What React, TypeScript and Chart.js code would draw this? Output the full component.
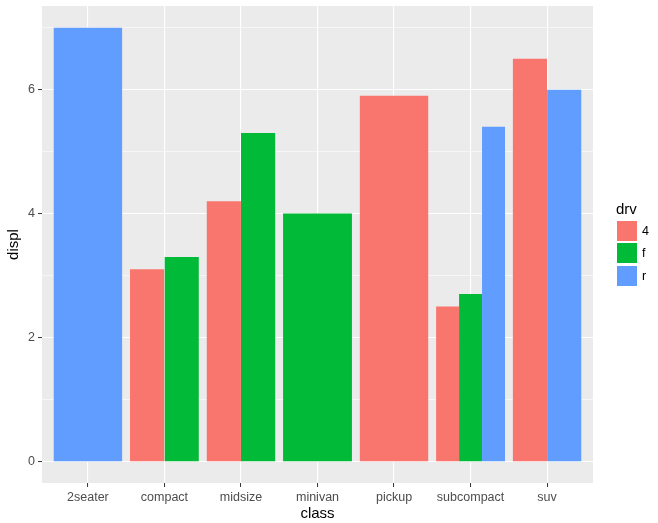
import React, { useEffect, useRef } from "react";
import { Chart, registerables } from "chart.js";

Chart.register(...registerables);

const classes = ["2seater", "compact", "midsize", "minivan", "pickup", "subcompact", "suv"];
const drvLevels = ["4", "f", "r"];
const drvColors = ["#F8766D", "#00BA38", "#619CFF"];
const displ4: (number | null)[] = [null, 3.1, 4.2, null, 5.9, 2.5, 6.5];
const displF: (number | null)[] = [null, 3.3, 5.3, 4.0, null, 2.7, null];
const displR: (number | null)[] = [7.0, null, null, null, null, 5.4, 6.0];
const yTicks = [0, 1, 2, 3, 4, 5, 6, 7];

const FONT = "'Liberation Sans', Arial, sans-serif";

function buildDatasets() {
  const series = [displ4, displF, displR];
  const datasets: any[] = [];
  classes.forEach((_, ci) => {
    const present = series.map((s, si) => ({ si, v: s[ci] })).filter((d) => d.v !== null);
    const n = present.length;
    const w = 0.9 / n;
    present.forEach((d, j) => {
      const x0 = ci + 1 - 0.45 + j * w;
      const x1 = x0 + w;
      datasets.push({
        label: drvLevels[d.si],
        data: [
          { x: x0, y: 0 },
          { x: x0, y: d.v },
          { x: x1, y: d.v },
          { x: x1, y: 0 },
        ],
        fill: "origin",
        backgroundColor: drvColors[d.si],
        borderColor: "rgba(0,0,0,0)",
        borderWidth: 0,
        pointRadius: 0,
        tension: 0,
      });
    });
  });
  return datasets;
}

const panelBg = {
  id: "panelBg",
  beforeDraw(chart: any) {
    const { ctx, chartArea } = chart;
    ctx.save();
    ctx.fillStyle = "#EBEBEB";
    ctx.fillRect(chartArea.left, chartArea.top, chartArea.right - chartArea.left, chartArea.bottom - chartArea.top);
    ctx.restore();
  },
};

export default function App() {
  const ref = useRef<HTMLCanvasElement>(null);
  useEffect(() => {
    if (!ref.current) return;
    const chart = new Chart(ref.current, {
      type: "line",
      data: { datasets: buildDatasets() },
      plugins: [panelBg],
      options: {
        animation: false,
        responsive: false,
        devicePixelRatio: 1,
        layout: { padding: { top: 6, right: 65, left: 0, bottom: 0 } },
        plugins: { legend: { display: false }, tooltip: { enabled: false } },
        scales: {
          x: {
            type: "linear",
            min: 0.4,
            max: 7.6,
            afterBuildTicks: (s: any) => {
              s.ticks = classes.map((_, i) => ({ value: i + 1 }));
            },
            afterFit: (s: any) => {
              s.height = 40;
              s.paddingLeft = 0;
              s.paddingRight = 0;
            },
            border: { display: false },
            grid: {
              color: "#FFFFFF",
              lineWidth: 1.1,
              drawTicks: true,
              tickLength: 4,
              tickColor: "#333333",
              tickWidth: 1,
            },
            ticks: {
              autoSkip: false,
              maxRotation: 0,
              padding: 3,
              color: "#4D4D4D",
              font: { family: FONT, size: 12.5 },
              callback: (v: any) => classes[Math.round(Number(v)) - 1] ?? "",
            },
            title: {
              display: true,
              text: "class",
              color: "#000000",
              font: { family: FONT, size: 15 },
              padding: { top: 0, bottom: 0 },
            },
          },
          y: {
            type: "linear",
            min: -0.35,
            max: 7.35,
            afterBuildTicks: (s: any) => {
              s.ticks = yTicks.map((v) => ({ value: v }));
            },
            afterFit: (s: any) => {
              s.width = 42;
              s.paddingTop = 0;
              s.paddingBottom = 0;
            },
            border: { display: false },
            grid: {
              color: "#FFFFFF",
              lineWidth: (c: any) => (c.tick && c.tick.value % 2 === 0 ? 1.1 : 0.55),
              drawTicks: true,
              tickLength: 4,
              tickColor: (c: any) => (c.tick && c.tick.value % 2 === 0 ? "#333333" : "rgba(0,0,0,0)"),
              tickWidth: 1,
            },
            ticks: {
              padding: 3,
              color: "#4D4D4D",
              font: { family: FONT, size: 12.5 },
              callback: (v: any) => (Number(v) % 2 === 0 ? String(v) : ""),
            },
            title: {
              display: true,
              text: "displ",
              color: "#000000",
              font: { family: FONT, size: 15 },
              padding: { top: 5, bottom: 0 },
            },
          },
        },
      },
    } as any);
    return () => chart.destroy();
  }, []);

  return (
    <div style={{ position: "absolute", left: 0, top: 0, width: 658, height: 523, background: "#FFFFFF" }}>
      <canvas ref={ref} width={658} height={523} style={{ display: "block" }} />
      <div
        style={{
          position: "absolute",
          left: 616,
          top: 200,
          fontFamily: FONT,
          fontSize: 15,
          lineHeight: "18px",
          color: "#000",
        }}
      >
        drv
      </div>
      {drvLevels.map((lv, i) => (
        <React.Fragment key={lv}>
          <div
            style={{
              position: "absolute",
              left: 617,
              top: Math.round(220.7 + i * 22.7),
              width: 20,
              height: 20,
              background: drvColors[i],
            }}
          />
          <div
            style={{
              position: "absolute",
              left: 642,
              top: Math.round(220.7 + i * 22.7),
              height: 20,
              lineHeight: "20px",
              fontFamily: FONT,
              fontSize: 12.5,
              color: "#000",
            }}
          >
            {lv}
          </div>
        </React.Fragment>
      ))}
    </div>
  );
}
